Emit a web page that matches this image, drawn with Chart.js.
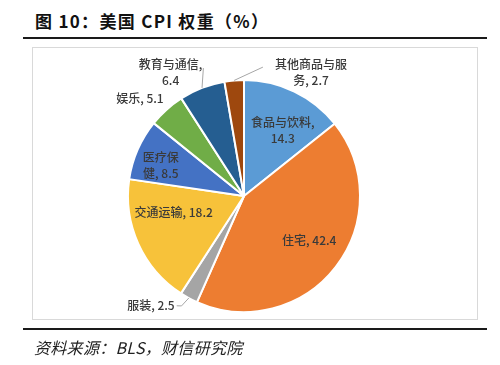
<!DOCTYPE html>
<html>
<head>
<meta charset="utf-8">
<script src="https://cdn.jsdelivr.net/npm/chart.js@4"></script>
<style>
  html, body { margin: 0; padding: 0; background: #fff; }
  #wrap { position: relative; width: 500px; height: 365px; overflow: hidden; }
  #title { position: absolute; left: 35px; top: 8px; font: bold 17px "Noto Sans CJK SC", sans-serif; letter-spacing: 1.3px; color: #111; white-space: nowrap; }
  #source { position: absolute; left: 34px; top: 335px; font: italic 16px "Noto Sans CJK SC", "Liberation Serif", serif; letter-spacing: 0.3px; color: #222; white-space: nowrap; }
  .rule { position: absolute; left: 23px; width: 464px; height: 2px; background: #1a1a1a; }
  #frame { position: absolute; left: 32px; top: 47px; width: 444px; height: 271px; border: 1px solid #d9d9d9; }
  canvas { position: absolute; left: 0; top: 0; }
</style>
</head>
<body>
<div id="wrap">
  <div id="title">图 10：美国 CPI 权重（%）</div>
  <div class="rule" style="top:37px"></div>
  <div id="frame"></div>
  <canvas id="c" width="500" height="365"></canvas>
  <div class="rule" style="top:328px"></div>
  <div id="source">资料来源：BLS，财信研究院</div>
</div>
<script>
// ---- data ----
const categories = ["食品与饮料", "住宅", "服装", "交通运输", "医疗保健", "娱乐", "教育与通信", "其他商品与服务"];
const weights = [14.3, 42.4, 2.5, 18.2, 8.5, 5.1, 6.4, 2.7];

// ---- style ----
const colors = ["#5B9BD5", "#ED7D31", "#A5A5A5", "#F7C23A", "#4472C4", "#70AD47", "#255E91", "#9E480E"];
// label line-break: -1 = none, 'v' = before value, n = after n characters
const labelBreak = ['v', -1, -1, -1, 3, -1, 'v', 6];
// label placement: [radius fraction, angle shift in degrees]
const labelPlace = [[0.655, 4.9], [0.68, -3.5], [1.24, 11.9], [0.624, 10.9], [0.765, -3.3], [1.227, -5.1], [1.242, -9.4], [1.214, 33.3]];
// leader lines: list of [radius fraction, angle shift] after the arc edge point
const leaders = { 2: [[1.09, 1.2], [1.11, 3.1]], 6: [[1.157, 3.6]], 7: [[1.123, 13.2]] };

function labelLines(i) {
  const full = categories[i] + ", " + weights[i];
  const b = labelBreak[i];
  if (b === 'v') return [categories[i] + ",", String(weights[i])];
  if (b === -1) return [full];
  return [full.slice(0, b), full.slice(b).trim()];
}

const labelPlugin = {
  id: 'pieLabels',
  afterDatasetsDraw(chart) {
    const ctx = chart.ctx;
    const meta = chart.getDatasetMeta(0);
    ctx.save();
    meta.data.forEach((arc, i) => {
      const p = arc.getProps(['x', 'y', 'startAngle', 'endAngle', 'outerRadius'], true);
      const mid = (p.startAngle + p.endAngle) / 2;
      const R = p.outerRadius;
      const pt = (rf, shiftDeg) => {
        const a = mid + shiftDeg * Math.PI / 180;
        return [p.x + rf * R * Math.cos(a), p.y + rf * R * Math.sin(a)];
      };
      if (leaders[i]) {
        ctx.strokeStyle = '#A6A6A6';
        ctx.lineWidth = 1;
        ctx.beginPath();
        const s = pt(1.0, 0);
        ctx.moveTo(s[0], s[1]);
        leaders[i].forEach(l => { const q = pt(l[0], l[1]); ctx.lineTo(q[0], q[1]); });
        ctx.stroke();
      }
      const [lx, ly] = pt(labelPlace[i][0], labelPlace[i][1]);
      const lines = labelLines(i);
      const lh = 16;
      ctx.fillStyle = '#3a3a3a';
      ctx.font = '500 12px "Noto Sans CJK SC", sans-serif';
      ctx.textAlign = 'center';
      ctx.textBaseline = 'middle';
      lines.forEach((t, k) => {
        ctx.fillText(t, lx, ly + (k - (lines.length - 1) / 2) * lh);
      });
    });
    ctx.restore();
  }
};

new Chart(document.getElementById('c'), {
  type: 'pie',
  data: {
    labels: categories,
    datasets: [{
      data: weights,
      backgroundColor: colors,
      borderColor: '#ffffff',
      borderWidth: 2
    }]
  },
  options: {
    responsive: false,
    animation: false,
    layout: { padding: { left: 127, right: 139, top: 79, bottom: 52 } },
    plugins: { legend: { display: false }, tooltip: { enabled: false } }
  },
  plugins: [labelPlugin]
});
</script>
</body>
</html>
